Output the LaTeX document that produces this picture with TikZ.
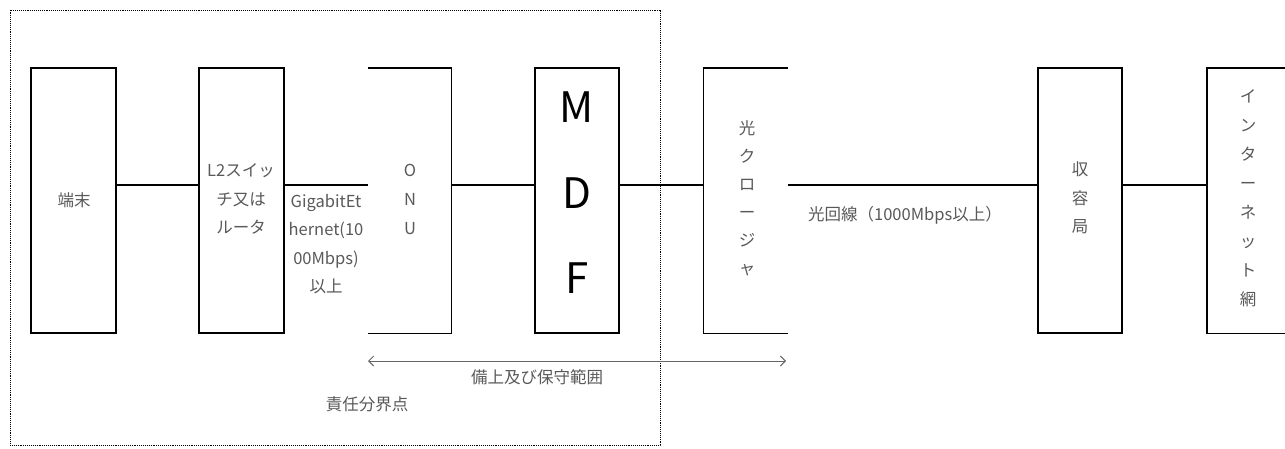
\documentclass[tikz,border=0pt]{standalone}
\usepackage{fontspec}
\setmainfont{Noto Sans CJK JP}
\usetikzlibrary{arrows.meta,calc}
\begin{document}
\begin{tikzpicture}[x=1pt,y=-1pt,
  box/.style={draw, line width=1.4pt, minimum width=85pt, minimum height=265pt, inner sep=0pt},
  openbox/.style={minimum width=84pt, minimum height=265pt, inner sep=0pt},
  wire/.style={line width=1.4pt},
  txt/.style={text=black!65, font=\fontsize{16.5}{28.5}\selectfont, align=center, inner sep=0pt},
  bigtxt/.style={text=black, font=\fontsize{42}{85.5}\selectfont, align=center, inner sep=0pt},
  span/.style={draw=black!60, line width=0.9pt, {Straight Barb[length=5pt,width=10pt]}-{Straight Barb[length=5pt,width=10pt]}}
]
\useasboundingbox (0,0) rectangle (1285,448);
% responsibility area
\node[draw, densely dotted, line width=0.9pt, minimum width=650pt, minimum height=435pt, inner sep=0pt] (area) at (335,227.5) {};
% boxes
\node[box] (tan) at (73.5,200.5) {};
\node[box] (l2) at (241.5,200.5) {};
\node[openbox, minimum width=83pt] (onu) at (409.5,200.5) {};
\node[box, minimum width=84pt] (mdf) at (577,200.5) {};
\node[openbox] (hc) at (745.5,200.5) {};
\node[box, minimum width=84pt] (sy) at (1080,200.5) {};
\node[openbox] (inet) at (1249,200.5) {};
\draw[wire] (onu.north west) -- (onu.north east) -- (onu.south east) -- (onu.south west);
\draw[wire] (hc.north east) -- (hc.north west) -- (hc.south west) -- (hc.south east);
\draw[wire] (inet.north east) -- (inet.north west) -- (inet.south west) -- (inet.south east);
% connectors
\coordinate (m) at (0,185);
\draw[wire] (tan.east |- m) -- (l2.west |- m);
\draw[wire] (l2.east |- m) -- (onu.west |- m);
\draw[wire] (onu.east |- m) -- (mdf.west |- m);
\draw[wire] (mdf.east |- m) -- (hc.west |- m);
\draw[wire] (hc.east |- m) -- (sy.west |- m);
\draw[wire] (sy.east |- m) -- (inet.west |- m);
% span arrow
\coordinate (sl) at (368,361);
\coordinate (sr) at (786,361);
\draw[span] (sl) -- (sr);
% texts
\node[txt] (t1) at (74,200) {端末};
\node[txt] (t2) at (241,199) {L2スイッ\\チ又は\\ルータ};
\node[txt] (t3) at (326,244) {GigabitEt\\hernet(10\\00Mbps)\\以上};
\node[txt, font=\fontsize{16.5}{29}\selectfont] (t4) at (410,199) {O\\N\\U};
\node[bigtxt] (t5) at (577,193) {M\\D\\F};
\node[txt, font=\fontsize{16.5}{28}\selectfont] (t6) at (747,198) {光\\ク\\ロ\\ー\\ジ\\ャ};
\node[txt] (t7) at (905,215) {光回線（1000Mbps以上）};
\node[txt] (t8) at (1080,198) {収\\容\\局};
\node[txt, font=\fontsize{16.5}{29}\selectfont] (t9) at (1248,198.5) {イ\\ン\\タ\\ー\\ネ\\ッ\\ト\\網};
\node[txt] (t10) at (537,377) {備上及び保守範囲};
\node[txt] (t11) at (367,404) {責任分界点};
\end{tikzpicture}
\end{document}
